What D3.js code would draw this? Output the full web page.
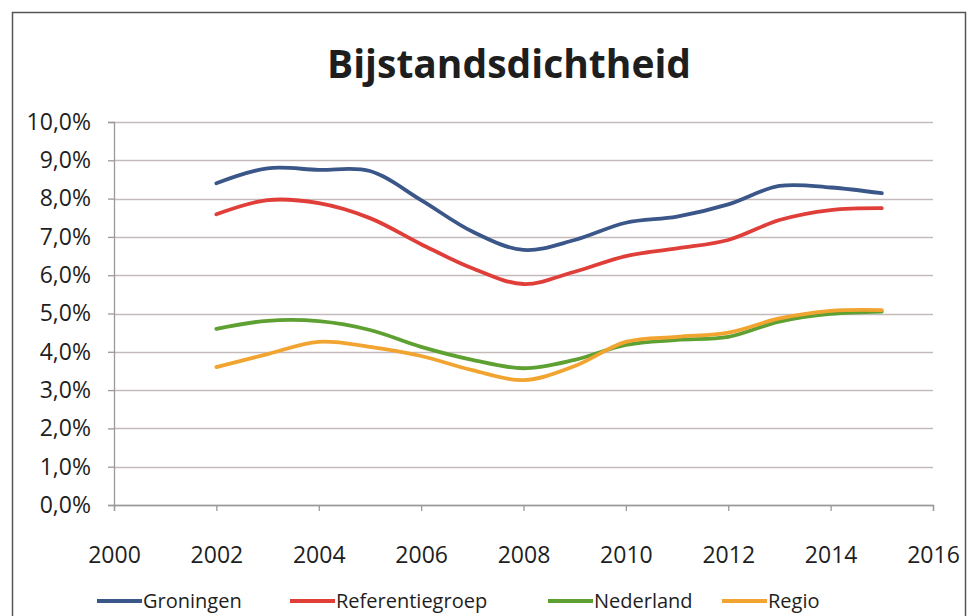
<!DOCTYPE html>
<html>
<head>
<meta charset="utf-8">
<script src="https://cdn.jsdelivr.net/npm/d3@7"></script>
<style>
  body { margin: 0; background: #fff; }
  text { font-family: "Open Sans", sans-serif; fill: #1e1e1e; }
</style>
</head>
<body>
<div class="chart"></div>
<script>
var svgWidth = 969;
var svgHeight = 616;

// plot area in pixels
var margin = { top: 122, right: 36, bottom: 111, left: 114 };
var width = svgWidth - margin.left - margin.right;
var height = svgHeight - margin.top - margin.bottom;

// data (percent)
var years = [2002, 2003, 2004, 2005, 2006, 2007, 2008, 2009, 2010, 2011, 2012, 2013, 2014, 2015];
var groningen = [8.40, 8.79, 8.75, 8.72, 7.96, 7.14, 6.66, 6.92, 7.37, 7.53, 7.85, 8.33, 8.29, 8.14];
var referentiegroep = [7.59, 7.96, 7.88, 7.49, 6.81, 6.18, 5.77, 6.09, 6.50, 6.70, 6.92, 7.44, 7.70, 7.75];
var nederland = [4.60, 4.81, 4.80, 4.57, 4.13, 3.79, 3.57, 3.79, 4.18, 4.31, 4.39, 4.79, 4.99, 5.05];
var regio = [3.60, 3.94, 4.26, 4.13, 3.89, 3.52, 3.26, 3.63, 4.26, 4.39, 4.50, 4.87, 5.07, 5.09];

var seriesNames = ["Groningen", "Referentiegroep", "Nederland", "Regio"];
var seriesColors = ["#3b5689", "#e03e39", "#5fa033", "#f2a431"];
var xTicks = [2000, 2002, 2004, 2006, 2008, 2010, 2012, 2014, 2016];
var yTicks = [0, 1, 2, 3, 4, 5, 6, 7, 8, 9, 10];

var seriesValues = [groningen, referentiegroep, nederland, regio];

var svg = d3.select(".chart")
  .append("svg")
  .attr("width", svgWidth)
  .attr("height", svgHeight);

// outer frame
svg.append("rect")
  .attr("x", 12.5)
  .attr("y", 12.5)
  .attr("width", 953)
  .attr("height", 640)
  .attr("fill", "none")
  .attr("stroke", "#555")
  .attr("stroke-width", 1.5);

svg.append("text")
  .attr("x", 509)
  .attr("y", 78)
  .attr("text-anchor", "middle")
  .style("font-size", "39px")
  .style("font-weight", "bold")
  .text("Bijstandsdichtheid");

var chartGroup = svg.append("g")
  .attr("transform", `translate(${margin.left}, ${margin.top})`);

var xScale = d3.scaleLinear().domain([2000, 2016]).range([0, width]);
var yScale = d3.scaleLinear().domain([0, 10]).range([height, 0]);

// gridlines
chartGroup.append("g")
  .selectAll("line")
  .data(yTicks)
  .enter()
  .append("line")
  .attr("x1", 0)
  .attr("x2", width)
  .attr("y1", d => Math.round(yScale(d)) + 0.5)
  .attr("y2", d => Math.round(yScale(d)) + 0.5)
  .attr("stroke", "#c4baba")
  .attr("stroke-width", 1.3);

var fmt = d => d3.format(".1f")(d).replace(".", ",") + "%";

var yAxis = chartGroup.append("g")
  .call(d3.axisLeft(yScale).tickValues(yTicks).tickFormat(fmt).tickSize(6).tickPadding(17));

var xAxis = chartGroup.append("g")
  .attr("transform", `translate(0, ${height})`)
  .call(d3.axisBottom(xScale).tickValues(xTicks).tickFormat(d3.format("d")).tickSize(6).tickPadding(36).tickSizeOuter(6));

[yAxis, xAxis].forEach(function (ax) {
  ax.select(".domain").attr("stroke", "#999").attr("stroke-width", 1.3);
  ax.selectAll(".tick line").attr("stroke", "#999").attr("stroke-width", 1.3);
  ax.selectAll(".tick text")
    .style("font-family", "'Open Sans', sans-serif")
    .style("font-size", "23px")
    .attr("fill", "#1e1e1e");
});

var line = d3.line()
  .x((d, i) => xScale(years[i]))
  .y(d => yScale(d))
  .curve(d3.curveCatmullRom.alpha(0.5));

chartGroup.selectAll(".series")
  .data(seriesValues)
  .enter()
  .append("path")
  .attr("class", "series")
  .attr("d", d => line(d))
  .attr("fill", "none")
  .attr("stroke", (d, i) => seriesColors[i])
  .attr("stroke-width", 3.8)
  .attr("stroke-linecap", "round");

// legend
var legendX = [97, 290, 548, 722];
var legend = svg.append("g")
  .attr("transform", "translate(0, 601)");

var items = legend.selectAll("g")
  .data(seriesNames)
  .enter()
  .append("g")
  .attr("transform", (d, i) => `translate(${legendX[i]}, 0)`);

items.append("line")
  .attr("x1", 0)
  .attr("x2", 45)
  .attr("stroke", (d, i) => seriesColors[i])
  .attr("stroke-width", 3.8);

items.append("text")
  .attr("x", 46)
  .attr("dy", "0.35em")
  .style("font-size", "20px")
  .text(d => d);
</script>
</body>
</html>
